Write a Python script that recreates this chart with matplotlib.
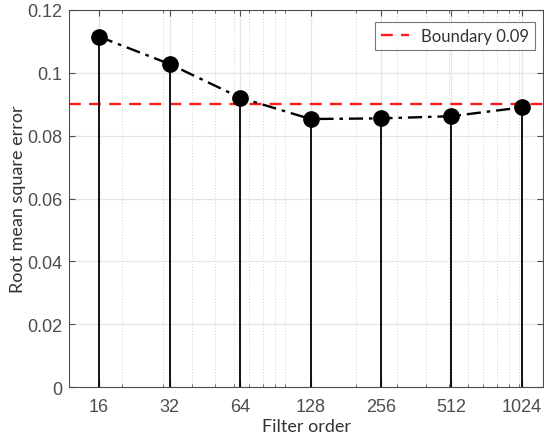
import matplotlib

matplotlib.use("Agg")
import matplotlib.pyplot as plt
from matplotlib.ticker import FixedLocator, NullFormatter
import numpy as np

# 滤波器阶数与对应的均方根误差
filter_orders = [16, 32, 64, 128, 256, 512, 1024]
rmse_values = [0.1115, 0.1028, 0.0921, 0.0853, 0.0855, 0.0862, 0.0890]
boundary = 0.09
tick_labels = ["16", "32", "64", "128", "256", "512", "1024"]
y_ticks = [0, 0.02, 0.04, 0.06, 0.08, 0.1, 0.12]
y_tick_labels = ["0", "0.02", "0.04", "0.06", "0.08", "0.1", "0.12"]

fig = plt.figure(figsize=(5.44, 4.39), dpi=100)
ax = fig.add_axes([0.127, 0.116, 0.871, 0.859])
ax.set_xscale("log")

# 竖线 + 实心圆点 + 点划线连线
ax.vlines(filter_orders, 0, rmse_values, color="black", linewidth=1.3, zorder=3)
ax.plot(filter_orders, rmse_values, linestyle=(0, (6, 2.5, 1.5, 2.5)), color="black",
        linewidth=1.7, marker="o", markersize=11, markerfacecolor="black", zorder=4)
ax.axhline(boundary, color="#ff1a1a", linestyle=(0, (5, 3.5)), linewidth=1.7,
           label=f"Boundary {boundary}", zorder=2)

ax.set_xlim(11.9, 1260)
ax.set_ylim(0, 0.12)
ax.set_xticks(filter_orders)
ax.set_xticklabels(tick_labels)
minor = [m * 10 ** e for e in (1, 2, 3) for m in range(1, 10)]
ax.xaxis.set_minor_locator(FixedLocator(minor))
ax.xaxis.set_minor_formatter(NullFormatter())
ax.set_yticks(y_ticks)
ax.set_yticklabels(y_tick_labels)

ax.grid(which="major", color="#e6e6e6", linewidth=0.9)
ax.grid(which="minor", axis="x", color="#d0d0d0", linestyle=(0, (1, 2)), linewidth=0.7)
ax.set_axisbelow(True)

ax.tick_params(which="both", direction="in", top=True, right=True, colors="#4d4d4d",
               labelcolor="#4d4d4d", labelsize=13)
ax.tick_params(which="major", length=4)
ax.tick_params(which="minor", length=2)
ax.tick_params(axis="x", which="major", pad=8)
ax.tick_params(axis="y", which="major", pad=5)
for lbl in ax.get_xticklabels() + ax.get_yticklabels():
    lbl.set_family("Liberation Sans")
for s in ax.spines.values():
    s.set_color("#4d4d4d")
    s.set_linewidth(0.8)

ax.set_xlabel("Filter order", fontsize=13, family="Lato", color="#333333", labelpad=2)
ax.set_ylabel("Root mean square error", fontsize=13, family="Lato", color="#333333", labelpad=1)

leg = ax.legend(loc="upper right", bbox_to_anchor=(0.983, 0.968), borderaxespad=0,
                fancybox=False, prop={"family": "Lato", "size": 12},
                handlelength=1.7, handletextpad=0.7, borderpad=0.35)
leg.get_frame().set_edgecolor("#555555")
leg.get_frame().set_linewidth(0.8)
for t in leg.get_texts():
    t.set_color("#333333")

fig.savefig("out.png", dpi=100)
